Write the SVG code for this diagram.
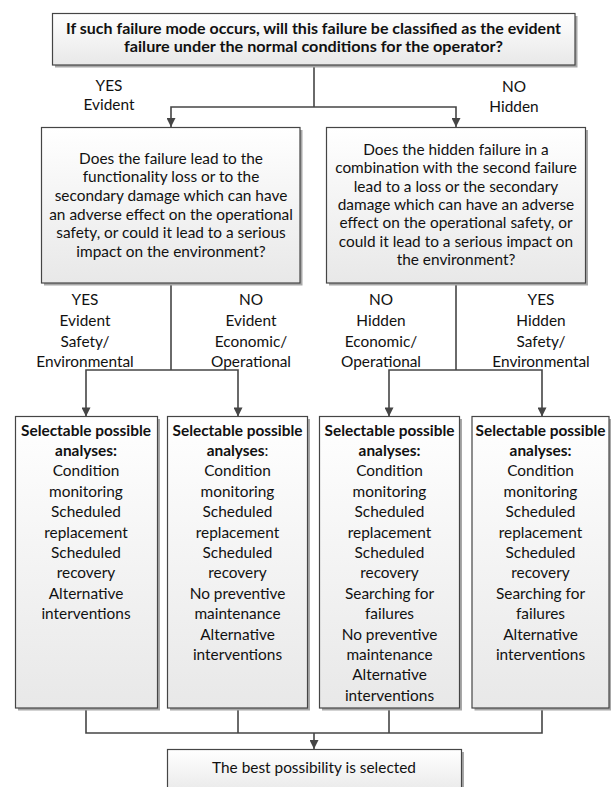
<svg xmlns="http://www.w3.org/2000/svg" width="611" height="787" viewBox="0 0 611 787">
<style>
.t{font-family:Lato,'Liberation Sans',sans-serif;font-size:15.4px;fill:#111;text-anchor:middle}
.b{font-weight:bold}
.box{fill:url(#g);stroke:#454545;stroke-width:1.2}
.sh{fill:#a8a8a8}
.c{fill:none;stroke:#454545;stroke-width:1.6}
.ca{fill:none;stroke:#454545;stroke-width:1.6;marker-end:url(#ah)}
</style>
<defs>
<linearGradient id="g" x1="0" y1="0" x2="0" y2="1">
<stop offset="0" stop-color="#ffffff"/>
<stop offset="1" stop-color="#e8e8e8"/>
</linearGradient>
<marker id="ah" viewBox="0 0 10 10" refX="10" refY="5" orient="auto" markerUnits="userSpaceOnUse" markerWidth="10" markerHeight="9">
<path d="M0,0 L10,5 L0,10 z" fill="#454545"/>
</marker>
</defs>
<rect width="611" height="787" fill="#ffffff"/>

<g id="connectors">
<path class="c" d="M314 65 V107"/>
<path class="ca" d="M314 107 H171 V127"/>
<path class="ca" d="M314 107 H456 V127"/>
<path class="c" d="M171 283 V370"/>
<path class="ca" d="M171 370 H86 V416.5"/>
<path class="ca" d="M171 370 H238 V416.5"/>
<path class="c" d="M456 283 V370"/>
<path class="ca" d="M456 370 H389 V416.5"/>
<path class="ca" d="M456 370 H542 V416.5"/>
<path class="c" d="M86 708 V733 H542 V708"/>
<path class="c" d="M238 708 V733"/>
<path class="c" d="M389 708 V733"/>
<path class="ca" d="M314 733 V749"/>
</g>

<g id="labels">
<text class="t" x="109" y="90.5">YES</text>
<text class="t" x="109" y="110">Evident</text>
<text class="t" x="514" y="91.5">NO</text>
<text class="t" x="514" y="112">Hidden</text>
<text class="t" x="85" y="304.5">YES</text>
<text class="t" x="85" y="325.5">Evident</text>
<text class="t" x="85" y="346.5">Safety/</text>
<text class="t" x="85" y="366.5">Environmental</text>
<text class="t" x="251" y="304.5">NO</text>
<text class="t" x="251" y="325.5">Evident</text>
<text class="t" x="251" y="346.5">Economic/</text>
<text class="t" x="251" y="366.5">Operational</text>
<text class="t" x="381" y="304.5">NO</text>
<text class="t" x="381" y="325.5">Hidden</text>
<text class="t" x="381" y="346.5">Economic/</text>
<text class="t" x="381" y="366.5">Operational</text>
<text class="t" x="541" y="304.5">YES</text>
<text class="t" x="541" y="325.5">Hidden</text>
<text class="t" x="541" y="346.5">Safety/</text>
<text class="t" x="541" y="366.5">Environmental</text>
</g>

<g id="q1">
<rect class="sh" x="55" y="16" width="522.5" height="51.5"/>
<rect class="box" x="52.5" y="13.5" width="522.5" height="51.5"/>
<text class="t b" x="313.5" y="34" textLength="495" lengthAdjust="spacingAndGlyphs">If such failure mode occurs, will this failure be classified as the evident</text>
<text class="t b" x="313.5" y="52" textLength="379" lengthAdjust="spacingAndGlyphs">failure under the normal conditions for the operator?</text>
</g>

<g id="q2">
<rect class="sh" x="44" y="130" width="258.5" height="155.5"/>
<rect class="box" x="41.5" y="127.5" width="258.5" height="155.5"/>
<text class="t" x="171" y="163.5">Does the failure lead to the</text>
<text class="t" x="171" y="182.2">functionality loss or to the</text>
<text class="t" x="171" y="200.9">secondary damage which can have</text>
<text class="t" x="171" y="219.6">an adverse effect on the operational</text>
<text class="t" x="171" y="238.3">safety, or could it lead to a serious</text>
<text class="t" x="171" y="257">impact on the environment?</text>
</g>

<g id="q3">
<rect class="sh" x="329" y="130" width="259" height="155.5"/>
<rect class="box" x="326.5" y="127.5" width="259" height="155.5"/>
<text class="t" x="456" y="154.8">Does the hidden failure in a</text>
<text class="t" x="456" y="173.1">combination with the second failure</text>
<text class="t" x="456" y="191.5">lead to a loss or the secondary</text>
<text class="t" x="456" y="209.8">damage which can have an adverse</text>
<text class="t" x="456" y="228.1">effect on the operational safety, or</text>
<text class="t" x="456" y="246.5">could it lead to a serious impact on</text>
<text class="t" x="456" y="264.8">the environment?</text>
</g>

<g id="a1">
<rect class="sh" x="18" y="419" width="142" height="291.5"/>
<rect class="box" x="15.5" y="416.5" width="142" height="291.5"/>
<text class="t b" x="86" y="435.5" textLength="130" lengthAdjust="spacingAndGlyphs">Selectable possible</text>
<text class="t b" x="86" y="455.9">analyses:</text>
<text class="t" x="86" y="476.3">Condition</text>
<text class="t" x="86" y="496.7">monitoring</text>
<text class="t" x="86" y="517.1">Scheduled</text>
<text class="t" x="86" y="537.5">replacement</text>
<text class="t" x="86" y="557.9">Scheduled</text>
<text class="t" x="86" y="578.3">recovery</text>
<text class="t" x="86" y="598.7">Alternative</text>
<text class="t" x="86" y="619.1">interventions</text>
</g>

<g id="a2">
<rect class="sh" x="170" y="419" width="140" height="291.5"/>
<rect class="box" x="167.5" y="416.5" width="140" height="291.5"/>
<text class="t b" x="237.5" y="435.5" textLength="130" lengthAdjust="spacingAndGlyphs">Selectable possible</text>
<text class="t" x="237.5" y="455.9"><tspan class="b">analyses</tspan>:</text>
<text class="t" x="237.5" y="476.3">Condition</text>
<text class="t" x="237.5" y="496.7">monitoring</text>
<text class="t" x="237.5" y="517.1">Scheduled</text>
<text class="t" x="237.5" y="537.5">replacement</text>
<text class="t" x="237.5" y="557.9">Scheduled</text>
<text class="t" x="237.5" y="578.3">recovery</text>
<text class="t" x="237.5" y="598.7">No preventive</text>
<text class="t" x="237.5" y="619.1">maintenance</text>
<text class="t" x="237.5" y="639.5">Alternative</text>
<text class="t" x="237.5" y="659.9">interventions</text>
</g>

<g id="a3">
<rect class="sh" x="322" y="419" width="140" height="291.5"/>
<rect class="box" x="319.5" y="416.5" width="140" height="291.5"/>
<text class="t b" x="389.5" y="435.5" textLength="130" lengthAdjust="spacingAndGlyphs">Selectable possible</text>
<text class="t b" x="389.5" y="455.9">analyses:</text>
<text class="t" x="389.5" y="476.3">Condition</text>
<text class="t" x="389.5" y="496.7">monitoring</text>
<text class="t" x="389.5" y="517.1">Scheduled</text>
<text class="t" x="389.5" y="537.5">replacement</text>
<text class="t" x="389.5" y="557.9">Scheduled</text>
<text class="t" x="389.5" y="578.3">recovery</text>
<text class="t" x="389.5" y="598.7">Searching for</text>
<text class="t" x="389.5" y="619.1">failures</text>
<text class="t" x="389.5" y="639.5">No preventive</text>
<text class="t" x="389.5" y="659.9">maintenance</text>
<text class="t" x="389.5" y="680.3">Alternative</text>
<text class="t" x="389.5" y="700.7">interventions</text>
</g>

<g id="a4">
<rect class="sh" x="474.5" y="419" width="137" height="291.5"/>
<rect class="box" x="472" y="416.5" width="137" height="291.5"/>
<text class="t b" x="540.5" y="435.5" textLength="130" lengthAdjust="spacingAndGlyphs">Selectable possible</text>
<text class="t b" x="540.5" y="455.9">analyses:</text>
<text class="t" x="540.5" y="476.3">Condition</text>
<text class="t" x="540.5" y="496.7">monitoring</text>
<text class="t" x="540.5" y="517.1">Scheduled</text>
<text class="t" x="540.5" y="537.5">replacement</text>
<text class="t" x="540.5" y="557.9">Scheduled</text>
<text class="t" x="540.5" y="578.3">recovery</text>
<text class="t" x="540.5" y="598.7">Searching for</text>
<text class="t" x="540.5" y="619.1">failures</text>
<text class="t" x="540.5" y="639.5">Alternative</text>
<text class="t" x="540.5" y="659.9">interventions</text>
</g>

<g id="result">
<rect class="sh" x="170" y="752" width="294" height="45"/>
<rect class="box" x="167.5" y="749.5" width="294" height="45"/>
<text class="t" x="314" y="773">The best possibility is selected</text>
</g>
</svg>
